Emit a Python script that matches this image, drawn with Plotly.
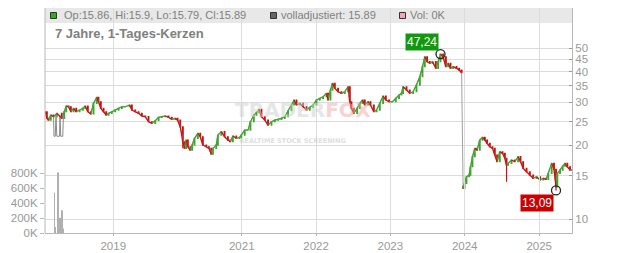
import math
import numpy as np
import pandas as pd
import plotly.graph_objects as go

# ---------------- data ----------------
t_years = [
    2018.358, 2018.380, 2018.402, 2018.433, 2018.470, 2018.514, 2018.581, 2018.614, 2018.641, 2018.672,
    2018.703, 2018.739, 2018.775, 2018.820, 2018.864, 2018.896, 2018.931, 2018.972, 2019.008, 2019.052,
    2019.075, 2019.106, 2019.143, 2019.179, 2019.210, 2019.254, 2019.300, 2019.345, 2019.389, 2019.435,
    2019.493, 2019.524, 2019.569, 2019.614, 2019.658, 2019.704, 2019.748, 2019.793, 2019.838, 2019.883,
    2019.927, 2019.973, 2020.017, 2020.062, 2020.108, 2020.139, 2020.175, 2020.210, 2020.233, 2020.256,
    2020.277, 2020.310, 2020.336, 2020.367, 2020.412, 2020.444, 2020.479, 2020.525, 2020.560, 2020.592,
    2020.614, 2020.659, 2020.681, 2020.727, 2020.771, 2020.816, 2020.848, 2020.883, 2020.929, 2020.973,
    2020.996, 2021.040, 2021.085, 2021.117, 2021.162, 2021.198, 2021.233, 2021.265, 2021.310, 2021.354,
    2021.400, 2021.444, 2021.489, 2021.534, 2021.579, 2021.623, 2021.669, 2021.704, 2021.736, 2021.781,
    2021.825, 2021.871, 2021.915, 2021.960, 2022.005, 2022.050, 2022.094, 2022.140, 2022.162, 2022.194,
    2022.221, 2022.252, 2022.296, 2022.342, 2022.386, 2022.431, 2022.454, 2022.476, 2022.507, 2022.552,
    2022.588, 2022.625, 2022.655, 2022.700, 2022.732, 2022.777, 2022.813, 2022.857, 2022.902, 2022.938,
    2022.982, 2023.028, 2023.073, 2023.117, 2023.149, 2023.171, 2023.217, 2023.261, 2023.306, 2023.351,
    2023.396, 2023.432, 2023.463, 2023.494, 2023.530, 2023.567, 2023.611, 2023.642, 2023.674, 2023.709,
    2023.746, 2023.777, 2023.809, 2023.844, 2023.890, 2023.925, 2023.958, 2023.978, 2023.998, 2024.024,
    2024.059, 2024.078, 2024.105, 2024.136, 2024.167, 2024.203, 2024.240, 2024.271, 2024.301, 2024.338,
    2024.374, 2024.405, 2024.436, 2024.472, 2024.509, 2024.540, 2024.563, 2024.584, 2024.630, 2024.674,
    2024.719, 2024.751, 2024.786, 2024.832, 2024.876, 2024.921, 2024.966, 2025.011, 2025.055, 2025.092,
    2025.122, 2025.168, 2025.199, 2025.226, 2025.244, 2025.280, 2025.316, 2025.347, 2025.378, 2025.415,
    2025.437,
]
close = [
    27.46, 25.80, 25.39, 26.62, 26.20, 27.05, 25.80, 27.46, 28.97, 28.78,
    27.46, 28.35, 27.46, 27.90, 28.35, 28.97, 27.46, 26.88, 29.72, 31.45,
    30.17, 28.35, 27.46, 26.62, 27.05, 27.46, 27.90, 28.35, 28.78, 28.78,
    29.25, 27.90, 27.46, 27.05, 26.38, 26.20, 24.99, 24.62, 25.23, 26.06,
    26.20, 26.38, 26.06, 25.56, 25.80, 25.39, 23.84, 20.70, 19.45, 21.04,
    19.75, 19.15, 20.07, 21.38, 22.41, 21.70, 20.07, 19.75, 19.45, 18.44,
    19.45, 20.07, 22.05, 22.75, 21.70, 21.04, 20.70, 21.84, 21.38, 21.58,
    22.05, 23.11, 23.11, 24.99, 26.62, 27.21, 28.08, 26.20, 25.39, 24.23,
    24.99, 25.39, 25.56, 25.80, 26.20, 27.72, 29.25, 30.66, 29.25, 29.72,
    28.78, 27.90, 28.62, 29.25, 30.66, 31.16, 31.62, 32.65, 30.66, 33.68,
    35.88, 34.22, 33.15, 32.65, 33.15, 34.74, 30.17, 28.35, 27.05, 28.35,
    29.72, 30.66, 29.25, 30.17, 29.25, 27.46, 27.90, 29.72, 31.83, 30.66,
    30.17, 30.17, 31.16, 32.14, 32.65, 34.74, 33.68, 32.65, 33.15, 35.30,
    38.17, 41.95, 46.08, 43.97, 43.32, 43.97, 41.32, 43.97, 47.24, 46.08,
    41.95, 43.32, 41.32, 41.95, 41.32, 40.66, 39.63, 13.35, 14.00, 14.89,
    15.13, 16.36, 17.98, 19.45, 19.15, 21.04, 21.58, 21.04, 20.39, 19.75,
    19.45, 18.27, 17.15, 18.84, 18.56, 17.71, 16.60, 16.89, 17.43, 17.15,
    17.98, 17.15, 16.12, 15.61, 15.13, 14.67, 14.89, 14.44, 14.67, 14.53,
    15.38, 16.89, 15.97, 13.55, 15.38, 15.86, 16.47, 16.89, 16.36, 15.86,
    15.89,
]
wick_low = {2020.210: 19.45, 2024.563: 14.21, 2025.226: 13.09}
open_override = {2023.978: 13.60}

# "volladjustiert" glitch at the very start
glitch_t = [2018.470, 2018.476, 2018.493, 2018.503, 2018.514, 2018.550, 2018.557, 2018.567, 2018.594, 2018.604]
glitch = [26.2, 21.8, 21.8, 26.5, 21.8, 21.8, 26.5, 21.8, 21.8, 27.5]

vol_t = [2018.483, 2018.497, 2018.528, 2018.541, 2018.555, 2018.581, 2018.595]
vol = [541000, 80000, 810000, 60000, 206000, 305000, 60000]

last_ohlc = [15.86, 15.9, 15.79, 15.89]
adj_last = 15.89
vol_last = "0K"

price_ticks = [10, 15, 20, 25, 30, 35, 40, 45, 50]
vol_ticks = [0, 200000, 400000, 600000, 800000]
vol_tick_labels = ["0K", "200K", "400K", "600K", "800K"]
year_tick_dates = ["2019-04-11", "2021-01-01", "2022-01-01", "2023-01-01", "2024-01-01", "2025-01-01"]
year_tick_labels = ["2019", "2021", "2022", "2023", "2024", "2025"]
x_start_year, x_end_year = 2018.355, 2025.441
price_range = [8.77, 72.9]
vol_max = 905000

# ---------------- helpers ----------------
def to_date(y):
    yi = int(y)
    return pd.Timestamp(year=yi, month=1, day=1) + pd.Timedelta(days=(y - yi) * 365.25)

W, H = 632, 253
ML, MR, MT, MB = 45, 60, 8, 20
PW, PH = W - ML - MR, H - MT - MB

def pxx(p):
    return (p - ML) / PW

def pxy(p):
    return (H - MB - p) / PH

dates = [to_date(v) for v in t_years]
c = np.array(close)
o = np.concatenate([[c[0]], c[:-1]])
for k, v in open_override.items():
    o[t_years.index(k)] = v
hi = np.maximum(o, c)
lo = np.minimum(o, c)
for k, v in wick_low.items():
    lo[t_years.index(k)] = v

GREEN = "#3ea52e"
RED = "#cc1010"
GRID = "#dcdcdc"
AXC = "#b8b8b8"
LBL = "#999999"
FONT = "Liberation Sans, Arial, sans-serif"

fig = go.Figure()

fig.add_trace(go.Bar(x=[to_date(v) for v in vol_t], y=vol, yaxis="y2",
                     marker=dict(color="#b0b0b0", line=dict(width=0)),
                     width=4 * 86400000, showlegend=False, hoverinfo="skip"))

# adjusted-close line (gray) underneath
fig.add_trace(go.Scatter(x=dates, y=close, mode="lines",
                         line=dict(color="#a0a0a0", width=1), showlegend=False, hoverinfo="skip"))
fig.add_trace(go.Scatter(x=[to_date(v) for v in glitch_t], y=glitch, mode="lines",
                         line=dict(color="#8a8a8a", width=1), showlegend=False, hoverinfo="skip"))

# coloured moves between consecutive candles (dense daily candles look like a coloured line)
up_x, up_y, dn_x, dn_y = [], [], [], []
for i in range(1, len(c)):
    if abs(o[i] - c[i - 1]) > 1e-9:
        continue
    if c[i] >= c[i - 1]:
        up_x += [dates[i - 1], dates[i], None]
        up_y += [c[i - 1], c[i], None]
    else:
        dn_x += [dates[i - 1], dates[i], None]
        dn_y += [c[i - 1], c[i], None]
fig.add_trace(go.Scatter(x=up_x, y=up_y, mode="lines", line=dict(color=GREEN, width=1.3),
                         showlegend=False, hoverinfo="skip"))
fig.add_trace(go.Scatter(x=dn_x, y=dn_y, mode="lines", line=dict(color=RED, width=1.3),
                         showlegend=False, hoverinfo="skip"))

fig.add_trace(go.Candlestick(
    x=dates, open=o, high=hi, low=lo, close=c,
    increasing=dict(line=dict(color=GREEN, width=1.2), fillcolor=GREEN),
    decreasing=dict(line=dict(color=RED, width=1.2), fillcolor=RED),
    whiskerwidth=0, showlegend=False, hoverinfo="skip"))

i_hi = int(np.argmax(hi))
i_lo = int(np.argmin(lo))
fig.add_trace(go.Scatter(x=[dates[i_hi], dates[i_lo]], y=[hi[i_hi], lo[i_lo]], mode="markers",
                         marker=dict(symbol="circle-open", size=9, color="#222222", line=dict(width=1.3)),
                         showlegend=False, hoverinfo="skip"))

def fmt(v):
    return f"{v:.2f}".replace(".", ",")

annotations = [
    dict(x=dates[i_hi], y=math.log10(hi[i_hi]), xref="x", yref="y", text=fmt(hi[i_hi]),
         showarrow=False, xanchor="right", yanchor="bottom", xshift=-2, yshift=3,
         bgcolor="#109910", borderpad=1, font=dict(family=FONT, size=12, color="#ffffee")),
    dict(x=dates[i_lo], y=math.log10(lo[i_lo]), xref="x", yref="y", text=fmt(lo[i_lo]),
         showarrow=False, xanchor="right", yanchor="top", xshift=-2, yshift=-4,
         bgcolor="#cc0000", borderpad=1, font=dict(family=FONT, size=12, color="#ffffff")),
    # header texts
    dict(x=pxx(61.5), y=pxy(15.5), xref="paper", yref="paper", showarrow=False,
         xanchor="left", yanchor="middle",
         text=f"Op:{last_ohlc[0]}, Hi:{last_ohlc[1]}, Lo:{last_ohlc[2]}, Cl:{last_ohlc[3]}",
         font=dict(family=FONT, size=11, color="#808080")),
    dict(x=pxx(279.3), y=pxy(15.5), xref="paper", yref="paper", showarrow=False,
         xanchor="left", yanchor="middle", text=f"volladjustiert: {adj_last}",
         font=dict(family=FONT, size=11, color="#808080")),
    dict(x=pxx(408), y=pxy(15.5), xref="paper", yref="paper", showarrow=False,
         xanchor="left", yanchor="middle", text=f"Vol: {vol_last}",
         font=dict(family=FONT, size=11, color="#808080")),
    dict(x=pxx(52.5), y=pxy(34), xref="paper", yref="paper", showarrow=False,
         xanchor="left", yanchor="middle", text="<b>7 Jahre, 1-Tages-Kerzen</b>",
         font=dict(family=FONT, size=13, color="#808080")),
    # watermark (single text block)
    dict(x=pxx(233), y=pxy(122), xref="paper", yref="paper", showarrow=False,
         xanchor="left", yanchor="middle", opacity=0.5, align="left",
         text=('<b>TRADER<span style="color:#f2a8a8">FOX</span></b><br>'
               '<span style="font-size:6.5px;color:#c0c0c0"><b>  REALTIME STOCK SCREENING</b></span>'),
         font=dict(family="DejaVu Sans, sans-serif", size=20, color="#cfcfcf")),
]

shapes = [
    dict(type="rect", xref="paper", yref="paper", x0=0, x1=1, y0=pxy(23), y1=1,
         fillcolor="#e8e8e8", line=dict(width=0), layer="below"),
    dict(type="line", xref="paper", yref="paper", x0=0, x1=0, y0=0, y1=1,
         line=dict(color=AXC, width=1)),
    dict(type="rect", xref="paper", yref="paper", x0=pxx(50.5), x1=pxx(56.5), y0=pxy(18.5), y1=pxy(12.5),
         fillcolor="#33aa22", line=dict(color="#333333", width=1)),
    dict(type="rect", xref="paper", yref="paper", x0=pxx(270.5), x1=pxx(276.5), y0=pxy(18.5), y1=pxy(12.5),
         fillcolor="#666666", line=dict(color="#333333", width=1)),
    dict(type="rect", xref="paper", yref="paper", x0=pxx(399.5), x1=pxx(405.5), y0=pxy(18.5), y1=pxy(12.5),
         fillcolor="#f0a8b4", line=dict(color="#333333", width=1)),
]

fig.update_layout(
    width=W, height=H,
    margin=dict(l=ML, r=MR, t=MT, b=MB, pad=0, autoexpand=False),
    paper_bgcolor="white", plot_bgcolor="rgba(0,0,0,0)",
    font=dict(family=FONT, size=12, color=LBL),
    showlegend=False,
    annotations=annotations, shapes=shapes,
    xaxis=dict(type="date", range=[to_date(x_start_year), to_date(x_end_year)],
               tickvals=year_tick_dates, ticktext=year_tick_labels,
               showgrid=True, gridcolor=GRID, gridwidth=1,
               showline=True, linecolor=AXC, linewidth=1,
               ticks="outside", ticklen=2, tickcolor=AXC,
               tickfont=dict(family=FONT, size=11.5, color=LBL), automargin=False,
               rangeslider=dict(visible=False), zeroline=False, fixedrange=True),
    yaxis=dict(type="log", range=[math.log10(price_range[0]), math.log10(price_range[1])],
               domain=[0, 1], side="right", automargin=False,
               tickvals=price_ticks, ticktext=[str(v) for v in price_ticks],
               showgrid=True, gridcolor=GRID, gridwidth=1,
               showline=True, linecolor=AXC, linewidth=1,
               ticks="inside", ticklen=3, tickcolor="#999999",
               tickfont=dict(family=FONT, size=11.5, color=LBL), zeroline=False),
    yaxis2=dict(domain=[0, 0.3], range=[0, vol_max], anchor="x", side="left", automargin=False,
                tickvals=vol_ticks, ticktext=vol_tick_labels,
                showgrid=False, showline=False, zeroline=False,
                ticks="outside", ticklen=4, tickcolor=AXC,
                tickfont=dict(family=FONT, size=11.5, color=LBL)),
)

fig.write_html("out.html")
